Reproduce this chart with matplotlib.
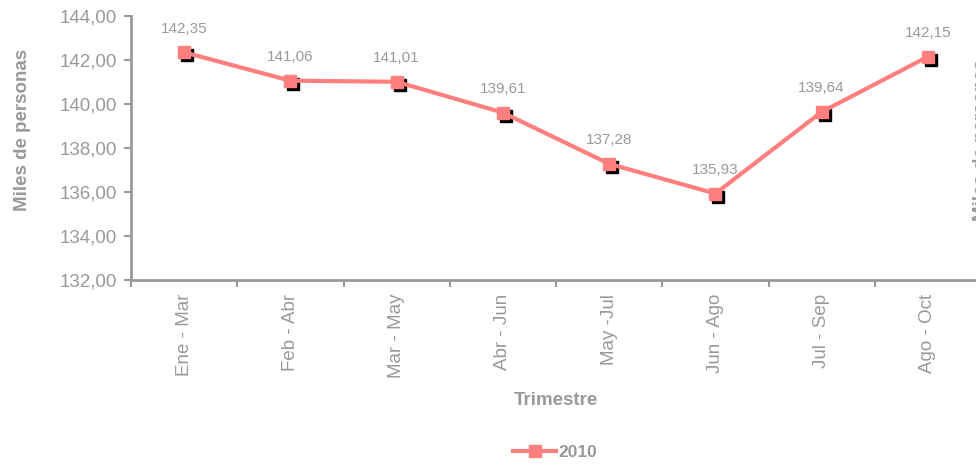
import numpy as np
import matplotlib
matplotlib.use('Agg')
import matplotlib.pyplot as plt
from matplotlib.transforms import ScaledTranslation

plt.rcParams['font.family'] = ['Liberation Sans', 'DejaVu Sans']

trimestres = ['Ene - Mar', 'Feb - Abr', 'Mar - May', 'Abr - Jun',
              'May -Jul', 'Jun - Ago', 'Jul - Sep', 'Ago - Oct']
valores_2010 = [142.35, 141.06, 141.01, 139.61, 137.28, 135.93, 139.64, 142.15]

gris = '#999999'
linea = '#FF7F7F'

fig = plt.figure(figsize=(9.76, 4.65), dpi=100)
ax = fig.add_axes([131/976, 1-280/465, 850/976, 264/465])

x = np.arange(len(trimestres))

# sombra negra de los marcadores
sombra = ax.transData + ScaledTranslation(3/100, -3/100, fig.dpi_scale_trans)
ax.plot(x, valores_2010, linestyle='none', marker='s', markersize=9,
        color='black', transform=sombra, zorder=2)
ax.plot(x, valores_2010, color=linea, linewidth=3, marker='s', markersize=9,
        label='2010', zorder=3)

for xi, v in zip(x, valores_2010):
    ax.annotate(f'{v:.2f}'.replace('.', ','), (xi, v), xytext=(0, 17),
                textcoords='offset points', ha='center', va='center',
                fontsize=11, color=gris)

ax.set_xlim(-0.5, len(trimestres) - 0.5)
ax.set_ylim(132, 144)
ax.set_yticks(np.arange(132, 145, 2))
ax.set_yticklabels([f'{t:.2f}'.replace('.', ',') for t in np.arange(132, 145, 2)])
ax.set_xticks(x)
ax.set_xticklabels(trimestres, rotation=90, va='top')
ax.set_xticks(np.arange(-0.5, len(trimestres)), minor=True)

ax.tick_params(axis='x', which='major', length=0, pad=10, labelsize=13.5, labelcolor=gris)
ax.tick_params(axis='x', which='minor', length=5, width=1.5, color=gris)
ax.tick_params(axis='y', length=5, width=1.5, color=gris, pad=5, labelsize=13.5, labelcolor=gris)

for s in ['top', 'right']:
    ax.spines[s].set_visible(False)
for s in ['left', 'bottom']:
    ax.spines[s].set_color(gris)
    ax.spines[s].set_linewidth(2)

ax.set_ylabel('Miles de personas', fontsize=13.5, fontweight='bold', color=gris)
ax.yaxis.set_label_coords(-0.118, 0.57)
ax.set_xlabel('Trimestre', fontsize=13.5, fontweight='bold', color=gris)
ax.xaxis.set_label_coords(0.5, -0.425)

fig.text(973/976, 1-140/465, 'Miles de personas', rotation=90, ha='left',
         va='center', fontsize=13.5, fontweight='bold', color=gris)

leg = ax.legend(loc='center', bbox_to_anchor=(555/976, 1-452/465),
                bbox_transform=fig.transFigure, frameon=False,
                prop={'weight': 'bold', 'size': 12.5}, handlelength=2.5,
                handletextpad=0.1)
for t in leg.get_texts():
    t.set_color(gris)

fig.savefig('out.png', dpi=100)
